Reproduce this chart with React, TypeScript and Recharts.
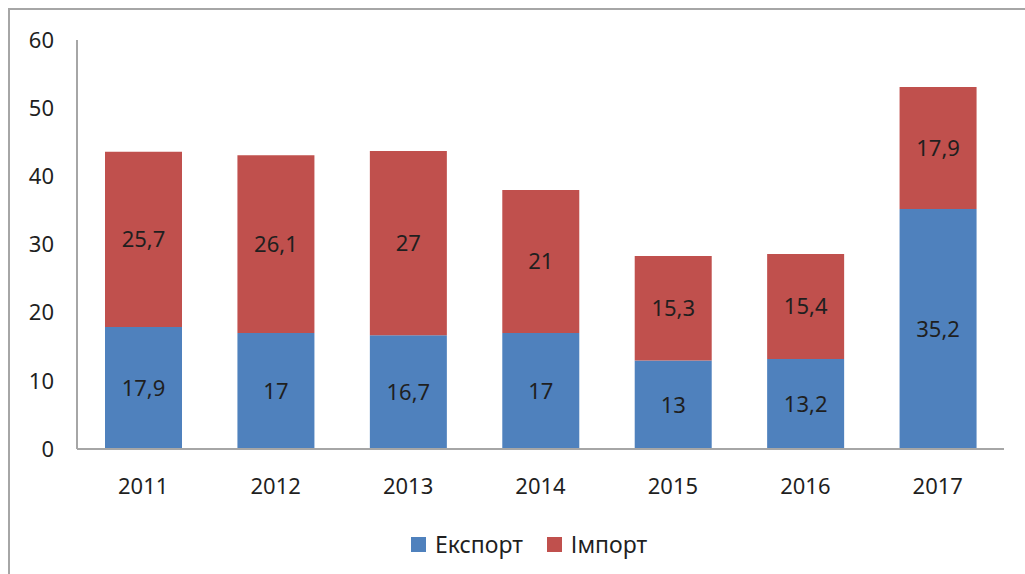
import { BarChart, Bar, XAxis, YAxis, Legend, LabelList } from "recharts";

const years = ["2011", "2012", "2013", "2014", "2015", "2016", "2017"];
const exportValues = [17.9, 17, 16.7, 17, 13, 13.2, 35.2];
const importValues = [25.7, 26.1, 27, 21, 15.3, 15.4, 17.9];
const yTicks = [0, 10, 20, 30, 40, 50, 60];

const EXPORT_COLOR = "#4f81bd";
const IMPORT_COLOR = "#c0504d";
const TEXT_COLOR = "#1f1f1f";
const FONT = "'Noto Sans', sans-serif";

const data = years.map((year, i) => ({
  year,
  export: exportValues[i],
  import: importValues[i],
}));

const fmt = (v: any) => String(v).replace(".", ",");

function LegendContent() {
  const items = [
    { name: "Експорт", color: EXPORT_COLOR },
    { name: "Імпорт", color: IMPORT_COLOR },
  ];
  return (
    <div
      style={{
        height: 40,
        display: "flex",
        justifyContent: "center",
        alignItems: "flex-start",
        gap: 24,
        paddingLeft: 44,
        fontFamily: FONT,
        fontSize: 23,
        color: TEXT_COLOR,
      }}
    >
      {items.map((item) => (
        <div key={item.name} style={{ display: "flex", alignItems: "center", gap: 9, lineHeight: "20px" }}>
          <span style={{ width: 15, height: 15, background: item.color, display: "inline-block" }} />
          <span>{item.name}</span>
        </div>
      ))}
    </div>
  );
}

export default function App() {
  return (
    <div
      style={{
        position: "absolute",
        left: 8,
        top: 8,
        width: 1017,
        height: 566,
        borderLeft: "2px solid #a6a6a6",
        borderTop: "2px solid #a6a6a6",
        background: "#fff",
      }}
    >
      <BarChart
        width={1015}
        height={564}
        data={data}
        margin={{ top: 30, right: 21, left: 0, bottom: 0 }}
        barSize={77}
      >
        <XAxis
          dataKey="year"
          axisLine={{ stroke: "#a6a6a6", strokeWidth: 2 }}
          tickLine={false}
          tickSize={0}
          tickMargin={29}
          height={85}
          tick={{ fill: TEXT_COLOR, fontSize: 22, fontFamily: FONT }}
        />
        <YAxis
          domain={[0, 60]}
          ticks={yTicks}
          width={67}
          axisLine={{ stroke: "#a6a6a6", strokeWidth: 2 }}
          tickLine={false}
          tickSize={0}
          tickMargin={23}
          tick={{ fill: TEXT_COLOR, fontSize: 22, fontFamily: FONT }}
        />
        <Legend verticalAlign="bottom" content={<LegendContent />} />
        <Bar dataKey="export" name="Експорт" stackId="a" fill={EXPORT_COLOR} isAnimationActive={false}>
          <LabelList
            dataKey="export"
            position="center"
            formatter={fmt}
            fill={TEXT_COLOR}
            style={{ fontSize: 22, fontFamily: FONT }}
          />
        </Bar>
        <Bar dataKey="import" name="Імпорт" stackId="a" fill={IMPORT_COLOR} isAnimationActive={false}>
          <LabelList
            dataKey="import"
            position="center"
            formatter={fmt}
            fill={TEXT_COLOR}
            style={{ fontSize: 22, fontFamily: FONT }}
          />
        </Bar>
      </BarChart>
    </div>
  );
}
